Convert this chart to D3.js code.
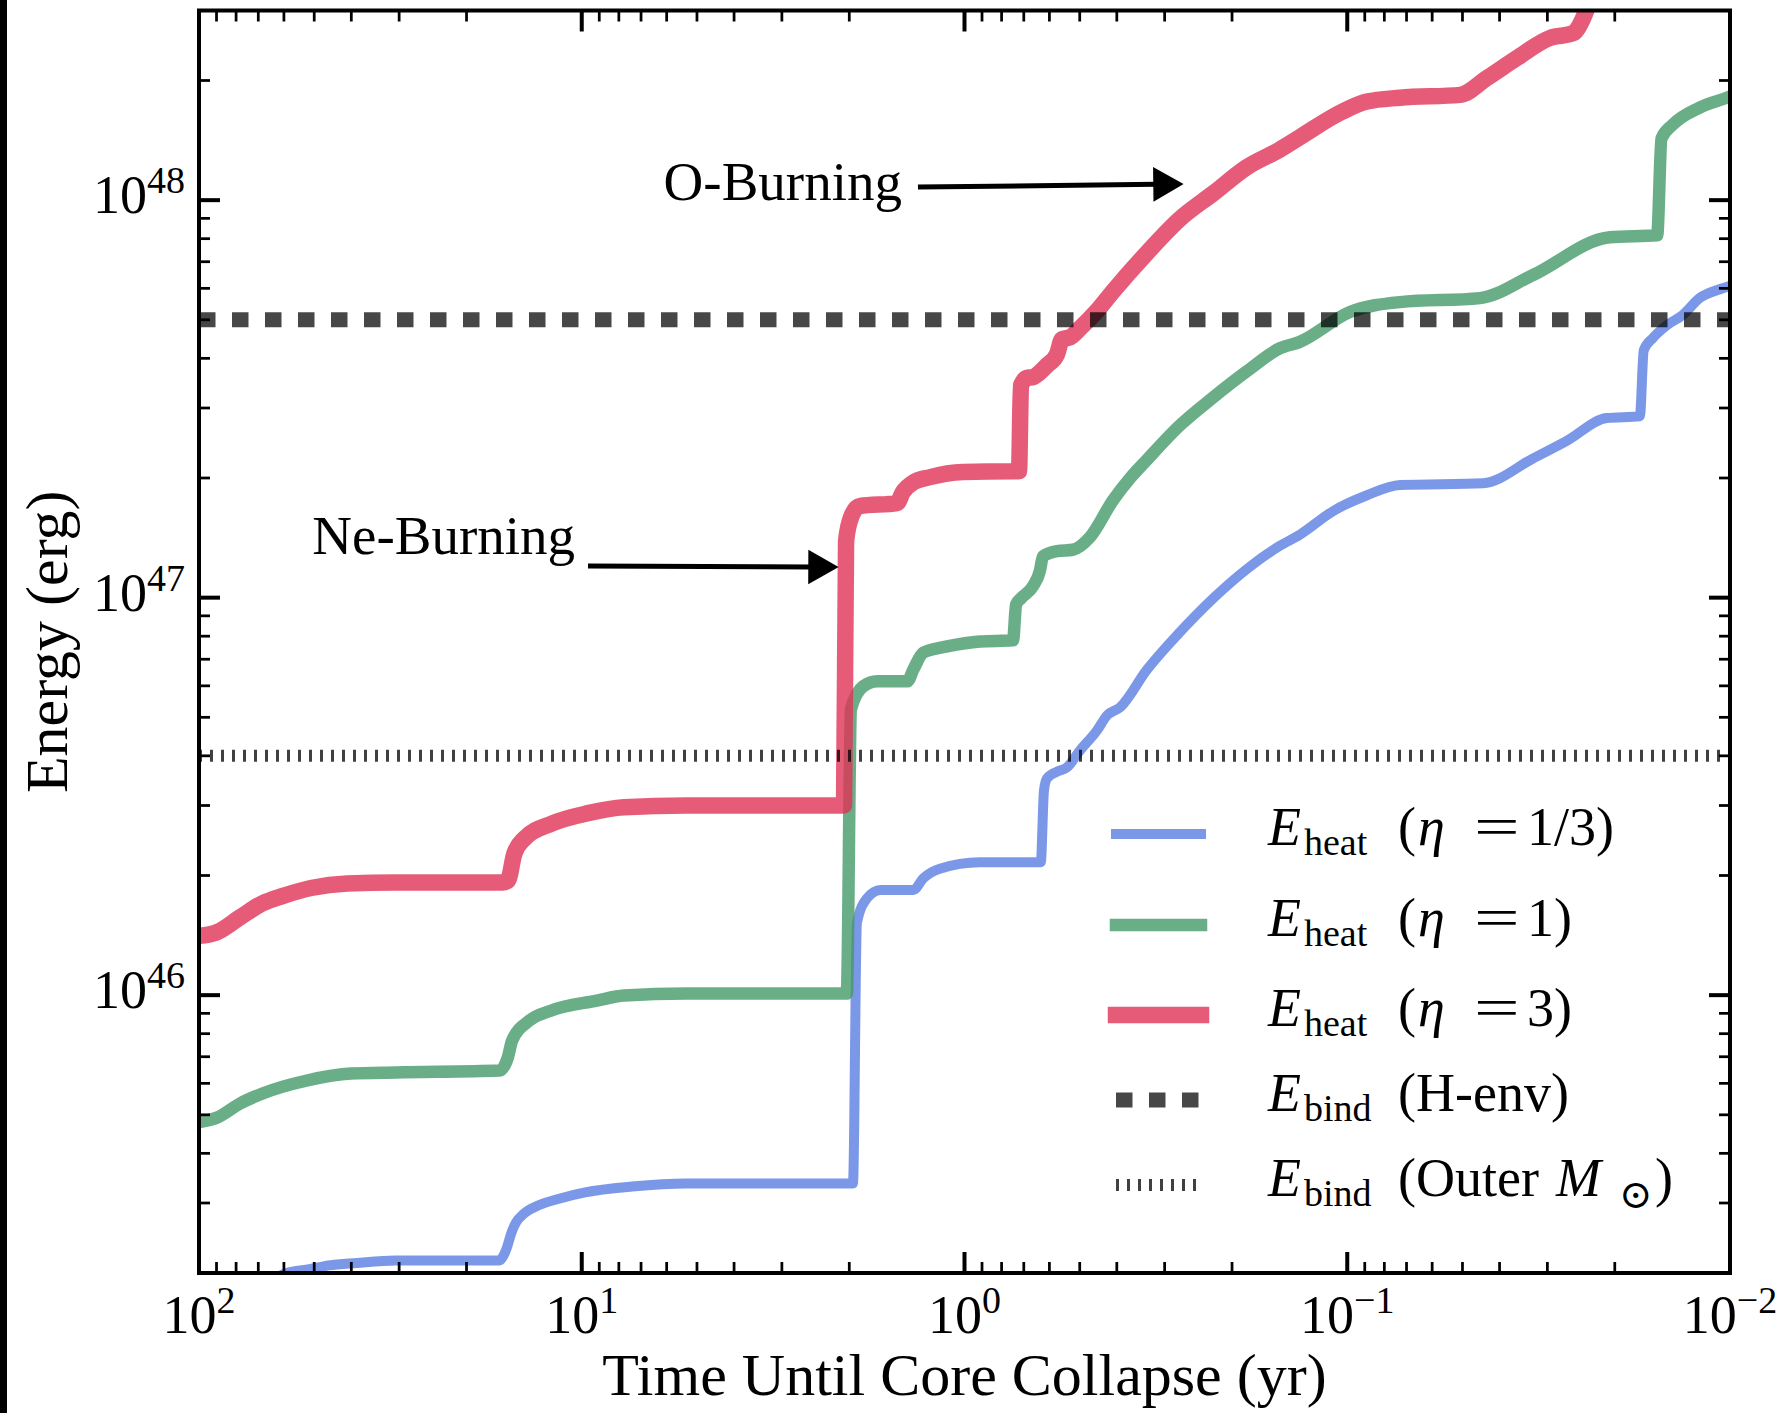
<!DOCTYPE html>
<html><head><meta charset="utf-8">
<script src="https://cdn.jsdelivr.net/npm/d3@7"></script>
<style>
html,body{margin:0;padding:0;background:#fff;}
svg{display:block;}
text{font-family:"Liberation Serif","Times New Roman","DejaVu Serif",serif;fill:#000;}
</style></head><body>
<svg id="chart" width="1791" height="1413"></svg>
<script>
// ---------------- data ----------------
const timeDomain = [100, 0.01];
const energyDomain = [2e45, 3e48];
const timeTickValues = [100, 10, 1, 0.1, 0.01];
const timeTickExponents = ["2", "1", "0", "\u22121", "\u22122"];
const energyTickValues = [1e46, 1e47, 1e48];
const energyTickExponents = ["46", "47", "48"];

// E_heat (eta = 3)
const timeEta3 = [100, 89.8, 78.1, 68.5, 60.0, 51.0, 41.0, 30.6, 20.4, 16.1, 15.6, 15.0, 14.1, 12.0, 9.63, 7.76, 5.34, 2.12, 2.064,
  2.039, 1.97, 1.88, 1.50, 1.45, 1.36, 1.23, 1.01, 0.747, 0.7205, 0.7119, 0.687, 0.662, 0.609, 0.573, 0.556, 0.530, 0.499,
  0.451, 0.409, 0.334, 0.274, 0.224, 0.183, 0.150, 0.133, 0.103, 0.0888, 0.0728, 0.0507, 0.0431, 0.0360, 0.0295, 0.0257, 0.0242, 0.0232];
const energyEta3 = [1.41e46, 1.44e46, 1.57e46, 1.70e46, 1.78e46, 1.86e46, 1.91e46, 1.92e46, 1.92e46, 1.92e46, 1.94e46, 2.27e46, 2.48e46, 2.70e46, 2.87e46, 2.97e46, 3.00e46, 3.00e46, 3.00e46,
  1.39e47, 1.61e47, 1.70e47, 1.73e47, 1.84e47, 1.95e47, 2.01e47, 2.07e47, 2.08e47, 2.08e47, 3.42e47, 3.57e47, 3.59e47, 3.84e47, 4.10e47, 4.47e47, 4.52e47, 4.76e47,
  5.26e47, 5.90e47, 7.36e47, 8.96e47, 1.04e48, 1.21e48, 1.34e48, 1.44e48, 1.67e48, 1.77e48, 1.81e48, 1.84e48, 2.03e48, 2.28e48, 2.56e48, 2.63e48, 2.87e48, 3.19e48];

// E_heat (eta = 1)
const timeEta1 = [100, 89.8, 78.1, 68.5, 52.2, 40.1, 30.6, 16.4, 15.6, 15.2, 13.7, 12.0, 9.13, 7.76, 5.34, 2.03,
  1.98, 1.84, 1.69, 1.41, 1.36, 1.28, 1.11, 0.911, 0.747, 0.733, 0.712, 0.662, 0.635, 0.624, 0.573, 0.521, 0.470,
  0.409, 0.369, 0.334, 0.274, 0.224, 0.183, 0.150, 0.133, 0.0984, 0.0728, 0.0450, 0.0327, 0.0206, 0.0155, 0.0151, 0.0141, 0.0120, 0.0102, 0.0099];
const energyEta1 = [4.79e45, 4.92e45, 5.34e45, 5.65e45, 6.10e45, 6.35e45, 6.39e45, 6.46e45, 6.97e45, 7.69e45, 8.63e45, 9.15e45, 9.69e45, 9.98e45, 1.01e46, 1.01e46,
  5.24e46, 5.98e46, 6.16e46, 6.16e46, 6.60e46, 7.28e46, 7.54e46, 7.76e46, 7.81e46, 9.62e46, 9.96e46, 1.07e47, 1.17e47, 1.27e47, 1.31e47, 1.32e47, 1.42e47,
  1.76e47, 2.00e47, 2.22e47, 2.71e47, 3.19e47, 3.71e47, 4.24e47, 4.40e47, 5.23e47, 5.54e47, 5.67e47, 6.48e47, 8.07e47, 8.16e47, 1.43e48, 1.55e48, 1.71e48, 1.81e48, 1.83e48];

// E_heat (eta = 1/3)
const timeEta13 = [78.1, 65.3, 60.0, 50.7, 45.8, 38.7, 30.6, 16.4, 16.06, 15.68, 15.30, 14.85, 14.16, 12.86, 11.40, 9.80, 7.39, 5.34, 1.956,
  1.91, 1.80, 1.66, 1.36, 1.28, 1.16, 0.911, 0.632, 0.620, 0.609, 0.573, 0.540, 0.499, 0.451, 0.424, 0.392, 0.334, 0.274, 0.224,
  0.183, 0.150, 0.133, 0.109, 0.0888, 0.0728, 0.0442, 0.0327, 0.0267, 0.0210, 0.0172, 0.0168, 0.0159, 0.0146, 0.0133, 0.0120, 0.0104, 0.0099];
const energyEta13 = [1.77e45, 1.89e45, 1.99e45, 2.05e45, 2.09e45, 2.12e45, 2.15e45, 2.15e45, 2.20e45, 2.32e45, 2.51e45, 2.68e45, 2.82e45, 2.97e45, 3.08e45, 3.19e45, 3.30e45, 3.36e45, 3.36e45,
  1.52e46, 1.75e46, 1.84e46, 1.84e46, 1.97e46, 2.08e46, 2.16e46, 2.16e46, 3.27e46, 3.51e46, 3.65e46, 3.74e46, 4.13e46, 4.63e46, 5.06e46, 5.30e46, 6.58e46, 8.18e46, 9.96e46,
  1.18e47, 1.35e47, 1.44e47, 1.65e47, 1.81e47, 1.92e47, 1.94e47, 2.24e47, 2.48e47, 2.83e47, 2.86e47, 4.19e47, 4.50e47, 4.85e47, 5.14e47, 5.67e47, 6.01e47, 6.11e47];

const bindHEnvEnergy = 5e47;
const bindOuterEnergy = 4e46;

const annotationLabels = ["O-Burning", "Ne-Burning"];
const annotationTextTime = [1.457, 10.41];
const annotationTextEnergy = [1.0e48, 1.288e47];
const arrowTailTime = [1.323, 9.632];
const arrowTailEnergy = [1.079e48, 1.201e47];
const arrowTipTime = [0.2702, 2.153];
const arrowTipEnergy = [1.098e48, 1.194e47];

// ---------------- layout ----------------
const L = 199, R = 1730, T = 10.5, B = 1273;
const svg = d3.select("#chart");
svg.append("rect").attr("width", 1791).attr("height", 1413).attr("fill", "#fff");

const x = d3.scaleLog().domain(timeDomain).range([L, R]);
const y = d3.scaleLog().domain(energyDomain).range([B, T]);

const defs = svg.append("defs");
defs.append("clipPath").attr("id", "plotclip").append("rect")
  .attr("x", L).attr("y", T).attr("width", R - L).attr("height", B - T);

const plot = svg.append("g").attr("clip-path", "url(#plotclip)");
const zip = (a, b) => a.map((v, i) => [v, b[i]]);
const line = d3.line().x(d => x(d[0])).y(d => y(d[1])).curve(d3.curveMonotoneX);

const series = [
  {t: timeEta13, e: energyEta13, color: "#5a7de2", w: 10},
  {t: timeEta1, e: energyEta1, color: "#459a6a", w: 12.5},
  {t: timeEta3, e: energyEta3, color: "#e03356", w: 16.5}
];
series.forEach(s => {
  plot.append("path").datum(zip(s.t, s.e)).attr("d", line)
    .attr("fill", "none").attr("stroke", s.color).attr("stroke-opacity", 0.8)
    .attr("stroke-width", s.w).attr("stroke-linejoin", "round").attr("stroke-linecap", "square");
});

// binding energy lines
const dashStyle = {w: 15, dash: "16.5,16.5"};
const dotStyle = {w: 12, dash: "3,8"};
plot.append("line").attr("x1", x(timeDomain[0])).attr("x2", x(timeDomain[1]))
  .attr("y1", y(bindHEnvEnergy)).attr("y2", y(bindHEnvEnergy))
  .attr("stroke", "#000").attr("stroke-opacity", 0.72).attr("stroke-width", dashStyle.w)
  .attr("stroke-dasharray", dashStyle.dash);
plot.append("line").attr("x1", x(timeDomain[0])).attr("x2", x(timeDomain[1]))
  .attr("y1", y(bindOuterEnergy)).attr("y2", y(bindOuterEnergy))
  .attr("stroke", "#000").attr("stroke-opacity", 0.75).attr("stroke-width", dotStyle.w)
  .attr("stroke-dasharray", dotStyle.dash);

// ---------------- axes ----------------
const ax = svg.append("g");
const xMinor = [];
for (let e = -2; e <= 1; e++) for (let m = 2; m <= 9; m++) xMinor.push(m * Math.pow(10, e));
const yMinor = [];
for (let e = 45; e <= 48; e++) for (let m = 2; m <= 9; m++) {
  const v = m * Math.pow(10, e);
  if (v > energyDomain[0] * 1.0001 && v < energyDomain[1] * 0.9999) yMinor.push(v);
}
const tickG = ax.append("g").attr("stroke", "#000");
xMinor.forEach(v => {
  const px = x(v);
  tickG.append("line").attr("x1", px).attr("x2", px).attr("y1", B).attr("y2", B - 11).attr("stroke-width", 2.75);
  tickG.append("line").attr("x1", px).attr("x2", px).attr("y1", T).attr("y2", T + 11).attr("stroke-width", 2.75);
});
timeTickValues.forEach(v => {
  const px = x(v);
  tickG.append("line").attr("x1", px).attr("x2", px).attr("y1", B).attr("y2", B - 21).attr("stroke-width", 4);
  tickG.append("line").attr("x1", px).attr("x2", px).attr("y1", T).attr("y2", T + 21).attr("stroke-width", 4);
});
yMinor.forEach(v => {
  const py = y(v);
  tickG.append("line").attr("x1", L).attr("x2", L + 11).attr("y1", py).attr("y2", py).attr("stroke-width", 2.75);
  tickG.append("line").attr("x1", R).attr("x2", R - 11).attr("y1", py).attr("y2", py).attr("stroke-width", 2.75);
});
energyTickValues.forEach(v => {
  const py = y(v);
  tickG.append("line").attr("x1", L).attr("x2", L + 21).attr("y1", py).attr("y2", py).attr("stroke-width", 4);
  tickG.append("line").attr("x1", R).attr("x2", R - 21).attr("y1", py).attr("y2", py).attr("stroke-width", 4);
});
ax.append("rect").attr("x", L).attr("y", T).attr("width", R - L).attr("height", B - T)
  .attr("fill", "none").attr("stroke", "#000").attr("stroke-width", 4);

timeTickValues.forEach((v, i) => {
  const t = ax.append("text").attr("x", x(v)).attr("y", 1333).attr("text-anchor", "middle").attr("font-size", 54);
  t.append("tspan").text("10");
  t.append("tspan").attr("font-size", 38).attr("dy", -20).text(timeTickExponents[i]);
});
energyTickValues.forEach((v, i) => {
  const t = ax.append("text").attr("x", L - 14).attr("y", y(v) + 13).attr("text-anchor", "end").attr("font-size", 54);
  t.append("tspan").text("10");
  t.append("tspan").attr("font-size", 38).attr("dy", -20).text(energyTickExponents[i]);
});

ax.append("text").attr("x", (L + R) / 2).attr("y", 1395).attr("text-anchor", "middle")
  .attr("font-size", 60).text("Time Until Core Collapse (yr)");
ax.append("text").attr("transform", `translate(67,${(T + B) / 2}) rotate(-90)`).attr("text-anchor", "middle")
  .attr("font-size", 60).text("Energy (erg)");

// ---------------- annotations ----------------
annotationLabels.forEach((lab, i) => {
  svg.append("text").attr("x", x(annotationTextTime[i])).attr("y", y(annotationTextEnergy[i]))
    .attr("text-anchor", "end").attr("font-size", 55).text(lab);
  const x0 = x(arrowTailTime[i]), y0 = y(arrowTailEnergy[i]);
  const x1 = x(arrowTipTime[i]), y1 = y(arrowTipEnergy[i]);
  const dx = x1 - x0, dy = y1 - y0, len = Math.hypot(dx, dy);
  const ux = dx / len, uy = dy / len, nx = -uy, ny = ux;
  const hl = 28, hw = 16;
  const bx = x1 - ux * hl, by = y1 - uy * hl;
  svg.append("line").attr("x1", x0).attr("y1", y0).attr("x2", bx + ux * 2).attr("y2", by + uy * 2)
    .attr("stroke", "#000").attr("stroke-width", 5);
  svg.append("path").attr("d", `M${x1},${y1}L${bx + nx * hw},${by + ny * hw}L${bx - nx * hw},${by - ny * hw}Z`)
    .attr("fill", "#000").attr("stroke", "#000").attr("stroke-width", 1.5).attr("stroke-linejoin", "miter");
});

// ---------------- legend ----------------
const legendRows = [834, 925, 1015, 1100, 1185];
const lx0 = 1116, lx1 = 1201;
const lg = svg.append("g");
series.forEach((s, i) => {
  lg.append("line").attr("x1", lx0).attr("x2", lx1).attr("y1", legendRows[i]).attr("y2", legendRows[i])
    .attr("stroke", s.color).attr("stroke-opacity", 0.8).attr("stroke-width", s.w).attr("stroke-linecap", "square");
});
lg.append("line").attr("x1", lx0).attr("x2", lx1).attr("y1", legendRows[3]).attr("y2", legendRows[3])
  .attr("stroke", "#000").attr("stroke-opacity", 0.72).attr("stroke-width", dashStyle.w).attr("stroke-dasharray", dashStyle.dash);
lg.append("line").attr("x1", lx0).attr("x2", lx1).attr("y1", legendRows[4]).attr("y2", legendRows[4])
  .attr("stroke", "#000").attr("stroke-opacity", 0.75).attr("stroke-width", dotStyle.w).attr("stroke-dasharray", dotStyle.dash);

const legendSubs = ["heat", "heat", "heat", "bind", "bind"];
// [text, x, kind]  kind: i = italic, s = subscript, w = widened relation sign
const legendParts = [
  [["(", 1398], ["\u03B7", 1418, "i"], ["=", 1474, "w"], ["1/3)", 1527]],
  [["(", 1398], ["\u03B7", 1418, "i"], ["=", 1474, "w"], ["1)", 1527]],
  [["(", 1398], ["\u03B7", 1418, "i"], ["=", 1474, "w"], ["3)", 1527]],
  [["(H-env)", 1398]],
  [["(Outer", 1398], ["M", 1556, "i"], ["\u2299", 1619, "s"], [")", 1655]]
];
legendRows.forEach((ry, i) => {
  lg.append("text").attr("x", 1268).attr("y", ry + 11).attr("font-size", 54).attr("font-style", "italic").text("E");
  lg.append("text").attr("x", 1304).attr("y", ry + 21).attr("font-size", 38).text(legendSubs[i]);
  legendParts[i].forEach(p => {
    if (p[2] === "w") {
      lg.append("text").attr("transform", `translate(${p[1]},${ry + 11}) scale(1.5,1)`)
        .attr("font-size", 54).text(p[0]);
      return;
    }
    const t = lg.append("text").attr("x", p[1]).attr("y", ry + 11 + (p[2] === "s" ? 12 : 0))
      .attr("font-size", p[2] === "s" ? 40 : 54).text(p[0]);
    if (p[2] === "i") t.attr("font-style", "italic");
  });
});

// dark strip at left image edge
svg.append("rect").attr("x", 0).attr("y", 0).attr("width", 7).attr("height", 1413).attr("fill", "#000");
</script>
</body></html>
